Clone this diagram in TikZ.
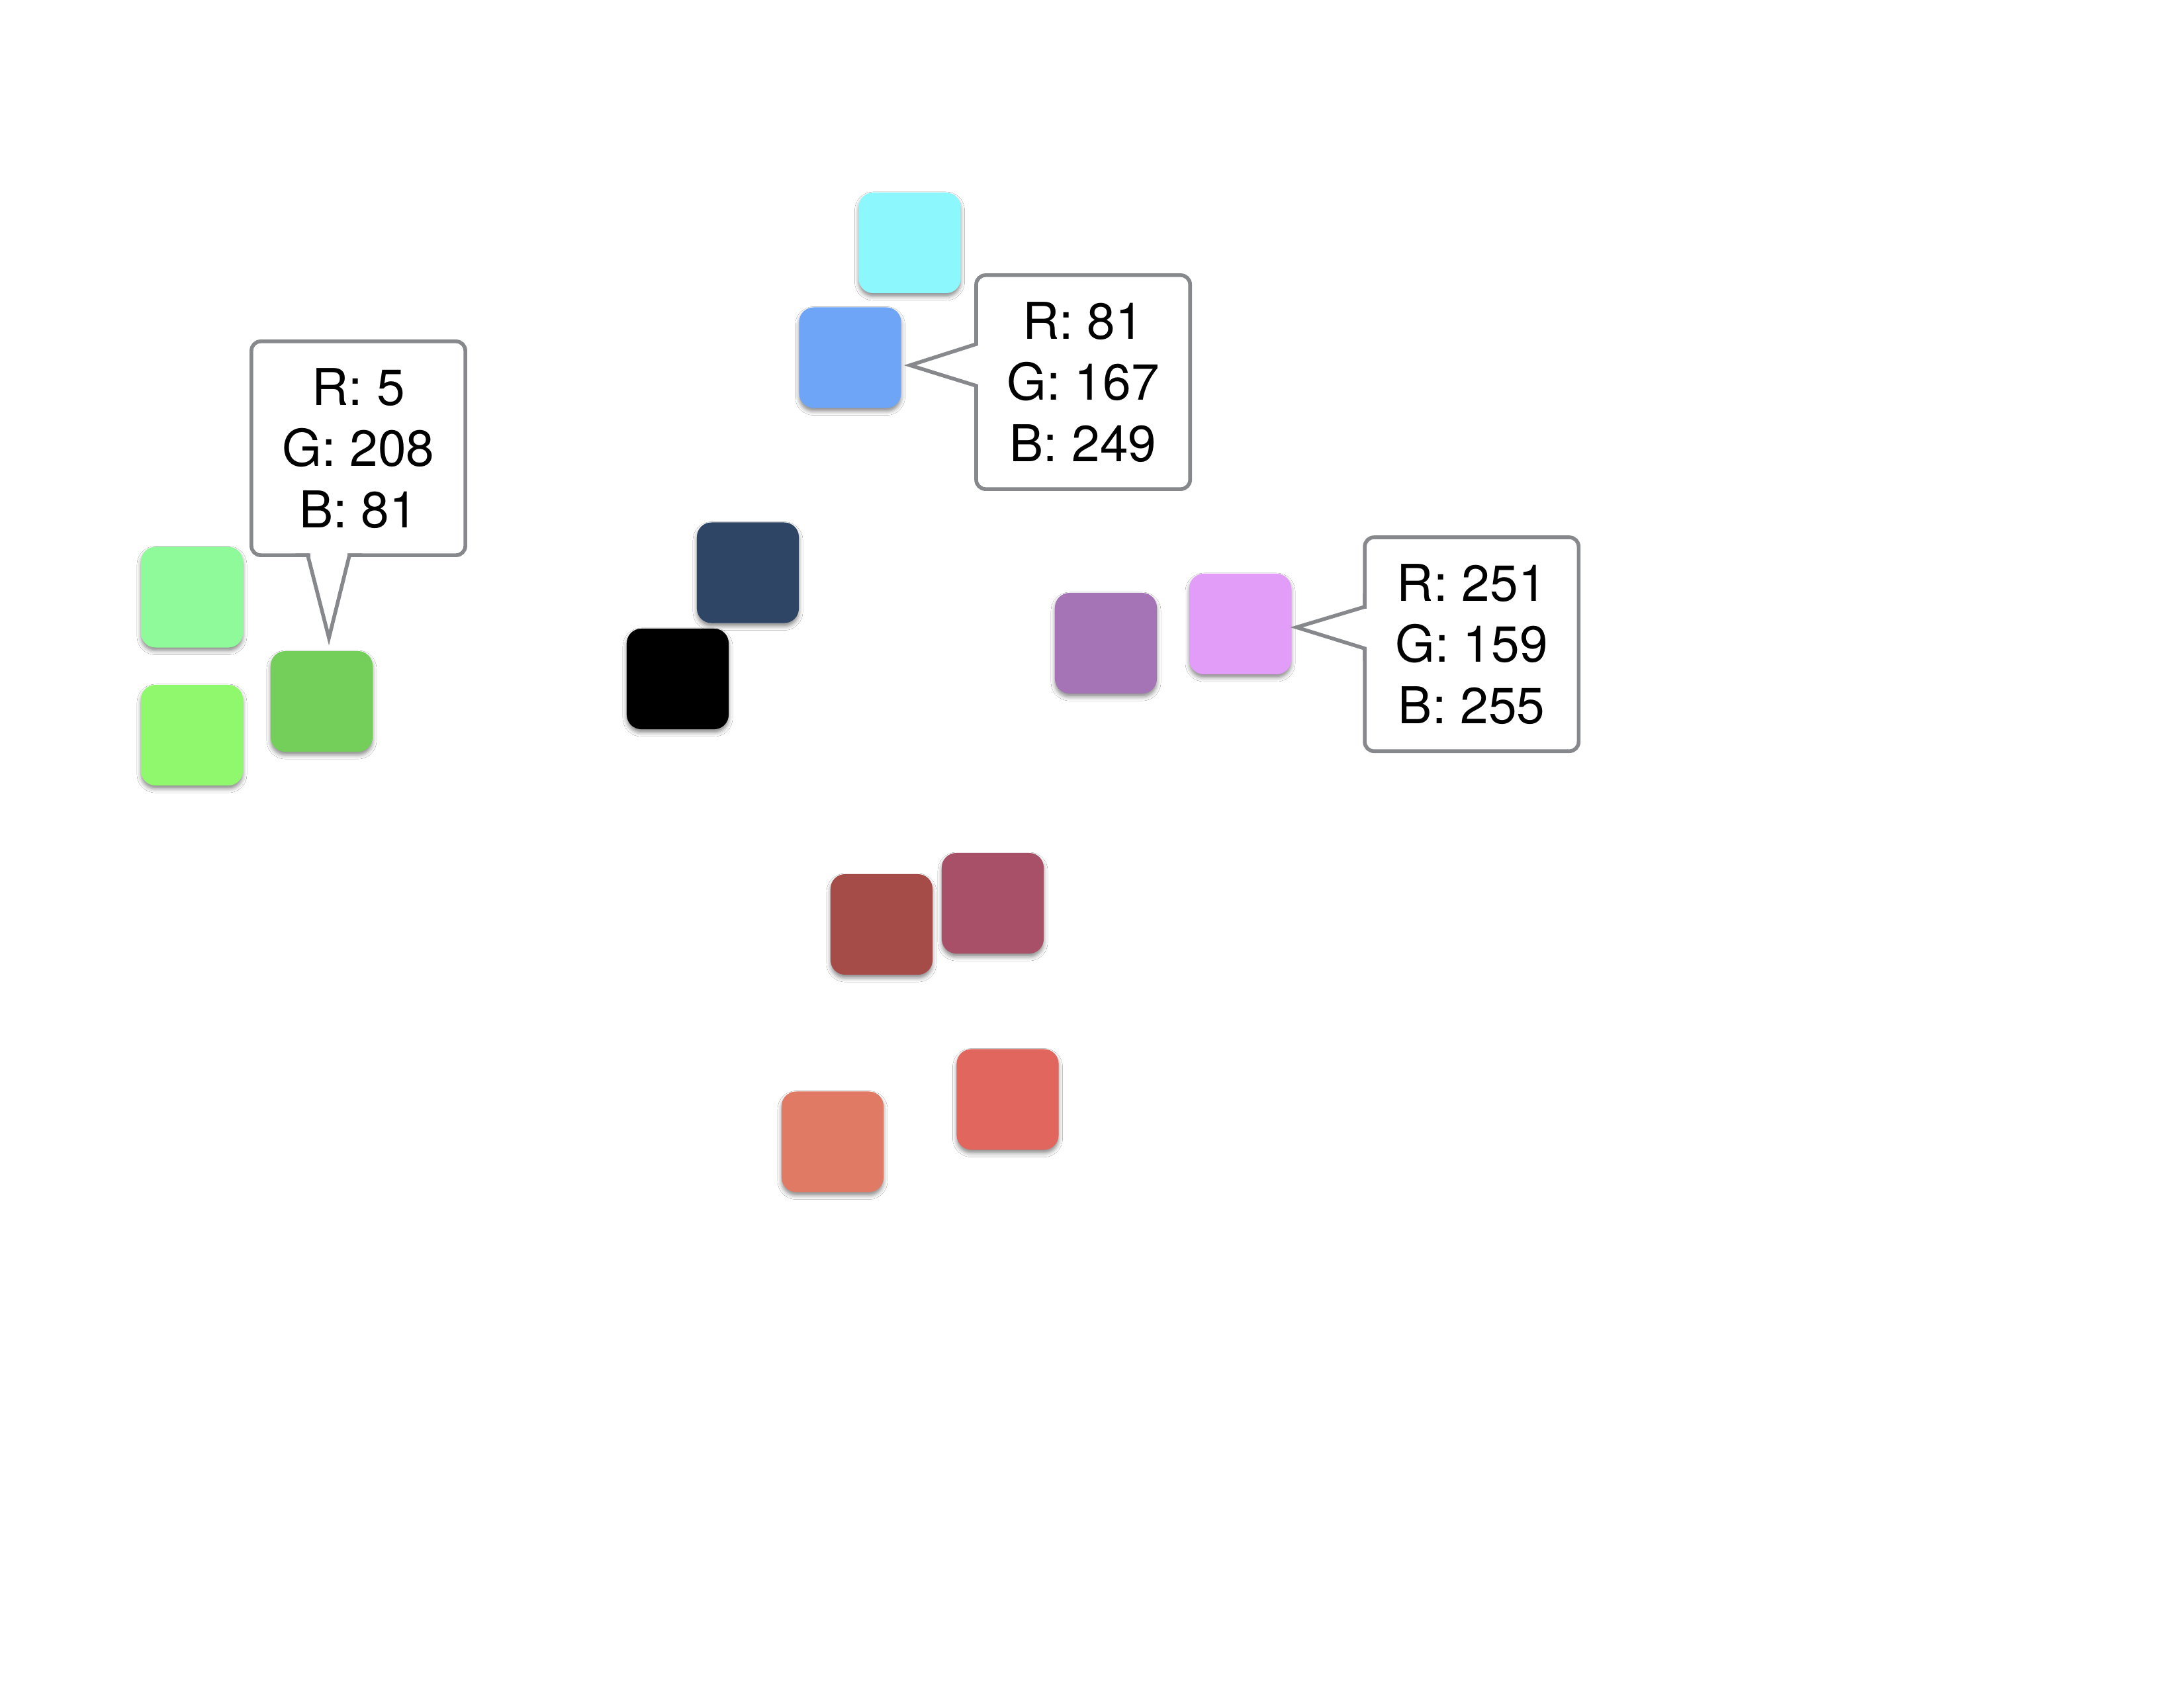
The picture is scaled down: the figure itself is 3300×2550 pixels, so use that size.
\documentclass[tikz,border=0pt]{standalone}
\usepackage{fontspec}
\setmainfont{TeX Gyre Heros}
\usetikzlibrary{calc,shadows.blur}
\definecolor{lgA}{HTML}{8EFA9A}
\definecolor{lgB}{HTML}{90F86C}
\definecolor{mgC}{HTML}{73CF5A}
\definecolor{cyanD}{HTML}{8CF7FD}
\definecolor{blueE}{HTML}{6FA5F7}
\definecolor{navyF}{HTML}{2F4566}
\definecolor{purpG}{HTML}{A574B6}
\definecolor{pinkH}{HTML}{E29DF9}
\definecolor{brickI}{HTML}{A54C48}
\definecolor{roseJ}{HTML}{A85068}
\definecolor{salmK}{HTML}{E07A64}
\definecolor{coralL}{HTML}{E0665E}
\definecolor{calloutgray}{HTML}{87888C}
\begin{document}
\begin{tikzpicture}[x=0.01cm,y=-0.01cm,
  swatch/.style={rounded corners=2.2mm, minimum width=1.54cm, minimum height=1.52cm, inner sep=0pt,
    blur shadow={shadow xshift=0pt,shadow yshift=-0.5mm,shadow blur radius=0.6mm,shadow opacity=45}},
  callout/.style={draw=calloutgray, line width=1.6pt, fill=white, rounded corners=1.4mm,
    minimum width=3.23cm, minimum height=3.23cm, inner sep=0pt, outer sep=0pt, align=center,
    font=\fontsize{21.8pt}{26.2pt}\selectfont},
  calltext/.style={align=center, inner sep=0pt, font=\fontsize{21.8pt}{26.2pt}\selectfont},
  tail/.style={draw=calloutgray, line width=1.6pt, line join=miter}]
\fill[white] (0,0) rectangle (3300,2550);
\useasboundingbox (0,0) rectangle (3300,2550);

% swatches
\node[swatch, fill=lgA] (lg1) at (290,902.5) {};
\node[swatch, fill=lgB] (lg2) at (290,1111) {};
\node[swatch, fill=mgC] (mg) at (486,1060) {};
\node[swatch, fill=cyanD] (cy) at (1374.5,367) {};
\node[swatch, fill=blueE] (bl) at (1284.5,540.5) {};
\node[swatch, fill=navyF] (nv) at (1130,865.5) {};
\node[swatch, fill=black] (bk) at (1024,1026) {};
\node[swatch, fill=purpG] (pu) at (1671,972) {};
\node[swatch, fill=pinkH] (pk) at (1874,943) {};
\node[swatch, fill=brickI] (br) at (1332,1397) {};
\node[swatch, fill=roseJ] (ro) at (1500,1365) {};
\node[swatch, fill=salmK] (sa) at (1258,1725.5) {};
\node[swatch, fill=coralL] (co) at (1522.5,1661.5) {};

% callouts
\node[callout] (c1) at (541.5,677.5) {R: 5\\G: 208\\B: 81};
\node[callout] (c2) at (1636.6,577.5) {R: 81\\G: 167\\B: 249};
\node[callout] (c3) at (2223.7,973.6) {R: 251\\G: 159\\B: 255};

\coordinate (t1) at (497,964);
\coordinate (t2) at (1375,552);
\coordinate (t3) at (1959,948);

\fill[white] ($(c1.south)+(-73,-4)$) rectangle ($(c1.south)+(-17,4)$);
\draw[tail] ($(c1.south)+(-95,0)$) -- ($(c1.south)+(-76.5,0)$) -- (t1) -- ($(c1.south)+(-13.5,0)$) -- ($(c1.south)+(5,0)$);

\fill[white] ($(c2.west)+(-4,-56)$) rectangle ($(c2.west)+(4,3)$);
\draw[tail] ($(c2.west)+(0,-77)$) -- ($(c2.west)+(0,-57.5)$) -- (t2) -- ($(c2.west)+(0,5.5)$) -- ($(c2.west)+(0,25)$);

\fill[white] ($(c3.west)+(-4,-54)$) rectangle ($(c3.west)+(4,4)$);
\draw[tail] ($(c3.west)+(0,-77)$) -- ($(c3.west)+(0,-56.6)$) -- (t3) -- ($(c3.west)+(0,6.4)$) -- ($(c3.west)+(0,25)$);
\end{tikzpicture}
\end{document}
